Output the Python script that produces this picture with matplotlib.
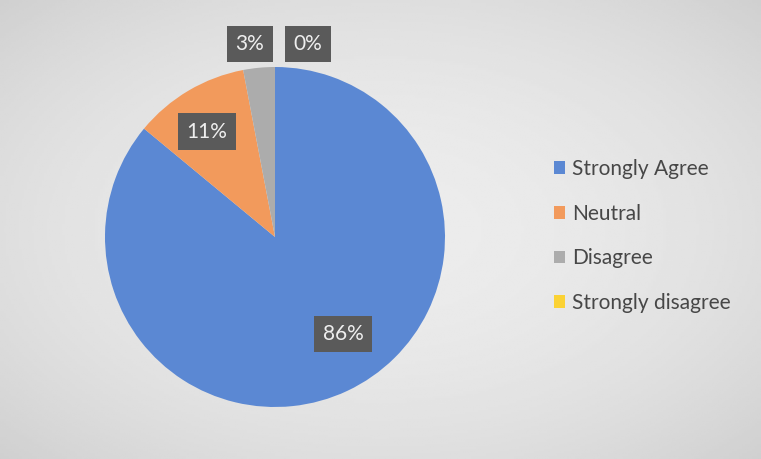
import matplotlib.pyplot as plt
import numpy as np

# survey responses
categories = ['Strongly Agree', 'Neutral', 'Disagree', 'Strongly disagree']
values = [86, 11, 3, 0]
colors = ['#5b88d3', '#f29a5c', '#acacac', '#fbd234']
pct_labels = ['86%', '11%', '3%', '0%']

plt.rcParams['font.family'] = ['Lato', 'DejaVu Sans']

fig = plt.figure(figsize=(7.61, 4.59), dpi=100)
fig.patch.set_facecolor('#e9e9e9')

# soft vignette like the scanned page
bg = fig.add_axes([0, 0, 1, 1], zorder=-1)
yy, xx = np.mgrid[-1:1:200j, -1:1:300j]
shade = 1 - 0.06 * (xx**2 + yy**2)
bg.imshow(shade, cmap='gray', vmin=0, vmax=1.08, extent=[0, 1, 0, 1], aspect='auto')
bg.axis('off')

# pie area: centre (275, 237) px, radius 170 px
ax = fig.add_axes([105 / 761, 52 / 459, 340 / 761, 340 / 459])

wedges, _ = ax.pie(values, colors=colors, startangle=90, counterclock=False,
                   radius=1, wedgeprops=dict(linewidth=0))
ax.set_xlim(-1, 1)
ax.set_ylim(-1, 1)
ax.axis('off')

# data label positions (as placed in the chart)
label_pos = [(0.40, -0.57), (-0.40, 0.62), (-0.147, 1.135), (0.194, 1.135)]
for txt, (x, y) in zip(pct_labels, label_pos):
    ax.text(x, y, txt, ha='center', va='center', fontsize=15, color='#eeeeee',
            clip_on=False,
            bbox=dict(boxstyle='square,pad=0.4', facecolor='#5a5a5a', edgecolor='none'))

handles = [plt.Rectangle((0, 0), 1, 1, facecolor=c) for c in colors]
fig.legend(handles, categories, loc='center left', bbox_to_anchor=(535 / 761, 1 - 236 / 459),
           frameon=False, fontsize=15, labelcolor='#474747', handlelength=0.55,
           handleheight=0.55, handletextpad=0.35, labelspacing=1.18)

plt.savefig('out.png', dpi=100, facecolor=fig.get_facecolor())
